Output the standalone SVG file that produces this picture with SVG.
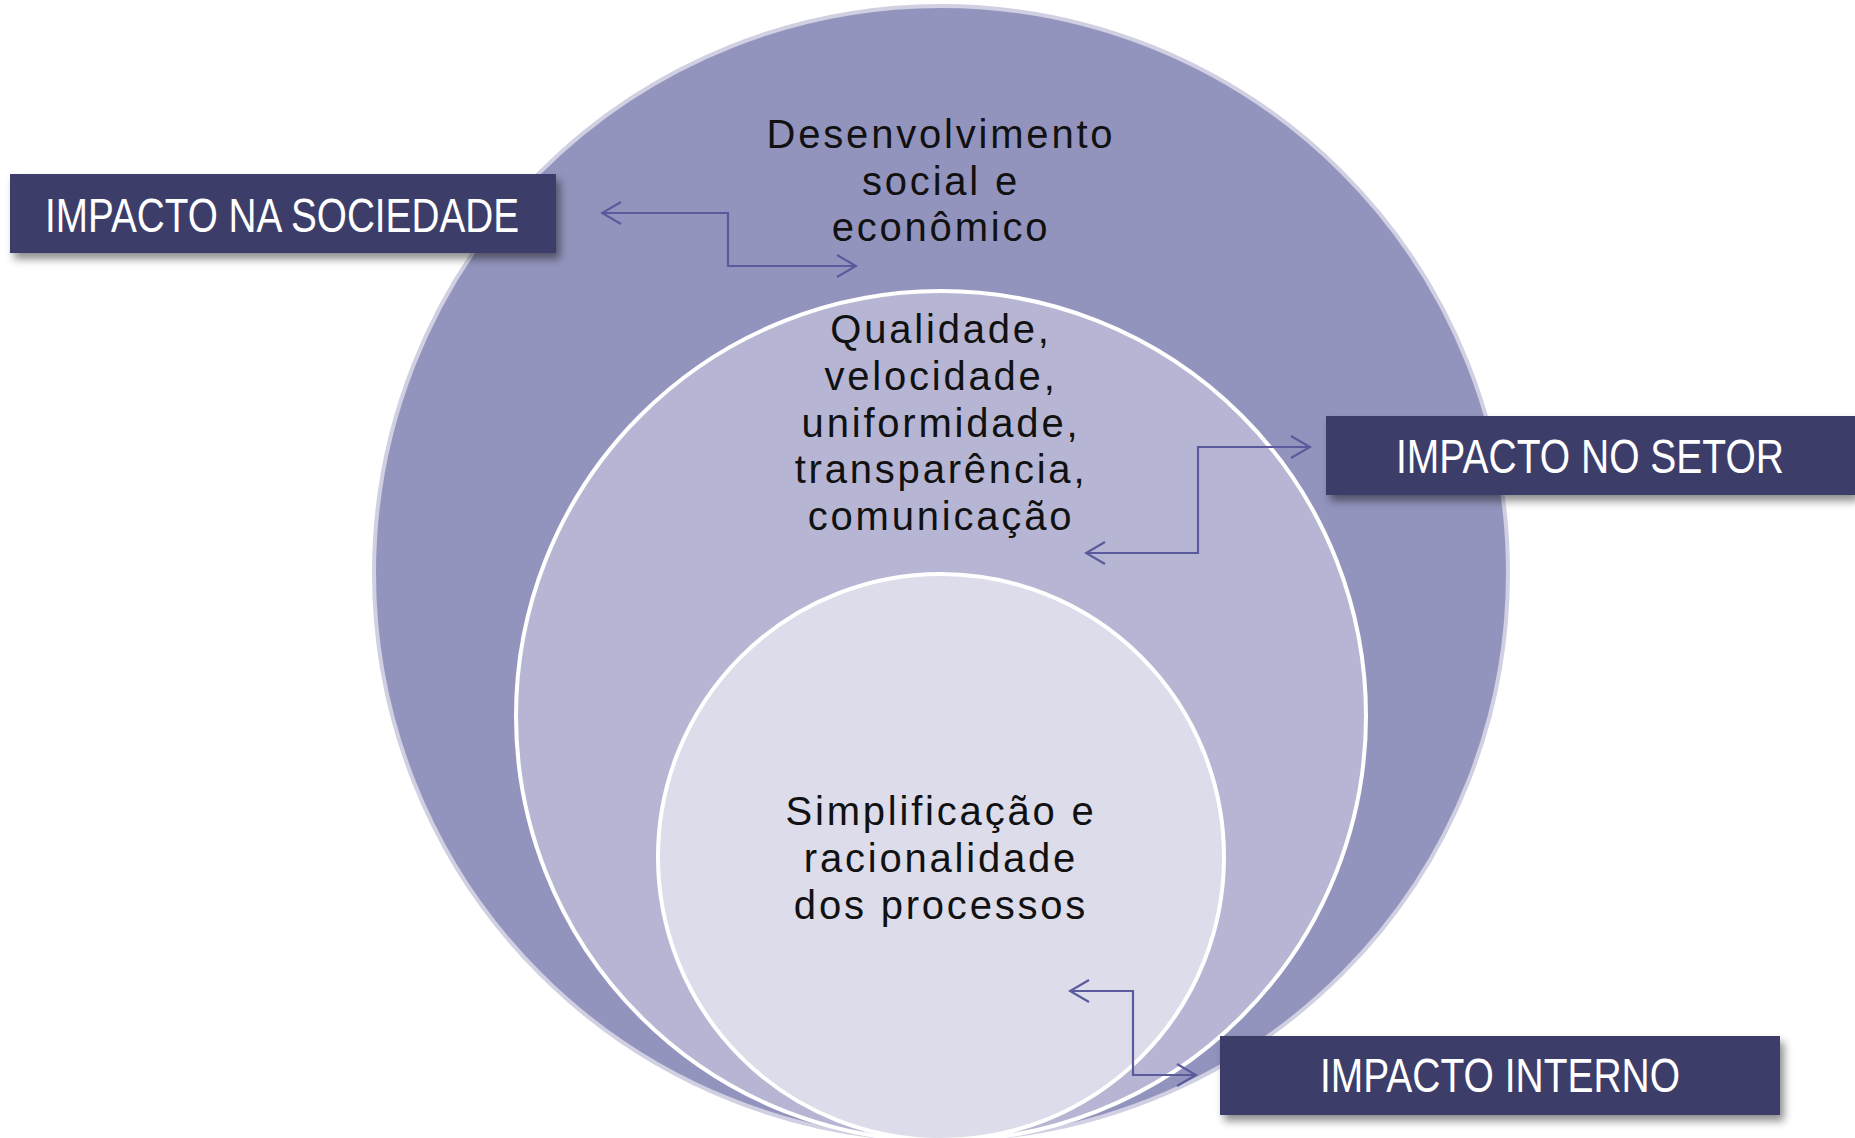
<svg xmlns="http://www.w3.org/2000/svg" width="1855" height="1138" viewBox="0 0 1855 1138">
  <style>
    .ctext { font-family: "Liberation Sans", Arial, sans-serif; font-size: 40px; letter-spacing: 2.8px; fill: #111; text-anchor: middle; }
    .btext { font-family: "Liberation Sans", Arial, sans-serif; font-size: 49px; fill: #ffffff; }
    .box { fill: #3E3E6A; filter: url(#shadow); }
    .conn { fill: none; stroke: #5A5A9C; stroke-width: 2.2; marker-start: url(#arrS); marker-end: url(#arrE); }
  </style>
  <defs>
    <filter id="shadow" x="-10%" y="-30%" width="130%" height="180%">
      <feDropShadow dx="4" dy="6" stdDeviation="4" flood-color="#000" flood-opacity="0.45"/>
    </filter>
    <marker id="arrE" viewBox="-1 -1 22 24" markerUnits="userSpaceOnUse" markerWidth="22" markerHeight="24" refX="19" refY="11" orient="auto">
      <path d="M0,0 L19,11 L0,22" fill="none" stroke="#5A5A9C" stroke-width="2.2"/>
    </marker>
    <marker id="arrS" viewBox="-1 -1 22 24" markerUnits="userSpaceOnUse" markerWidth="22" markerHeight="24" refX="19" refY="11" orient="auto-start-reverse">
      <path d="M0,0 L19,11 L0,22" fill="none" stroke="#5A5A9C" stroke-width="2.2"/>
    </marker>
  </defs>
  <rect width="1855" height="1138" fill="#ffffff"/>

  <g id="circle-outer">
    <circle cx="941" cy="573" r="567" fill="#9394BD" stroke="#D0D0E2" stroke-width="4"/>
    <text class="ctext" x="941" y="148">Desenvolvimento</text>
    <text class="ctext" x="941" y="195">social e</text>
    <text class="ctext" x="941" y="241">econômico</text>
  </g>
  <g id="circle-middle">
    <circle cx="941" cy="716" r="425" fill="#B6B6D4" stroke="#ffffff" stroke-width="4"/>
    <text class="ctext" x="941" y="343">Qualidade,</text>
    <text class="ctext" x="941" y="390">velocidade,</text>
    <text class="ctext" x="941" y="437">uniformidade,</text>
    <text class="ctext" x="941" y="483">transparência,</text>
    <text class="ctext" x="941" y="530">comunicação</text>
  </g>
  <g id="circle-inner">
    <circle cx="941" cy="857" r="283" fill="#DCDCEA" stroke="#ffffff" stroke-width="4"/>
    <text class="ctext" x="941" y="825">Simplificação e</text>
    <text class="ctext" x="941" y="872">racionalidade</text>
    <text class="ctext" x="941" y="919">dos processos</text>
  </g>

  <g id="connectors">
    <path class="conn" d="M602,213 H728 V266 H856"/>
    <path class="conn" d="M1310,447 H1198 V553 H1086"/>
    <path class="conn" d="M1070,991 H1133 V1075 H1196"/>
  </g>

  <g id="box-sociedade">
    <rect class="box" x="10" y="174" width="546" height="79"/>
    <text class="btext" x="45" y="232" textLength="474" lengthAdjust="spacingAndGlyphs">IMPACTO NA SOCIEDADE</text>
  </g>
  <g id="box-setor">
    <rect class="box" x="1326" y="416" width="529" height="79"/>
    <text class="btext" x="1396" y="473" textLength="388" lengthAdjust="spacingAndGlyphs">IMPACTO NO SETOR</text>
  </g>
  <g id="box-interno">
    <rect class="box" x="1220" y="1036" width="560" height="79"/>
    <text class="btext" x="1320" y="1092" textLength="360" lengthAdjust="spacingAndGlyphs">IMPACTO INTERNO</text>
  </g>
</svg>
